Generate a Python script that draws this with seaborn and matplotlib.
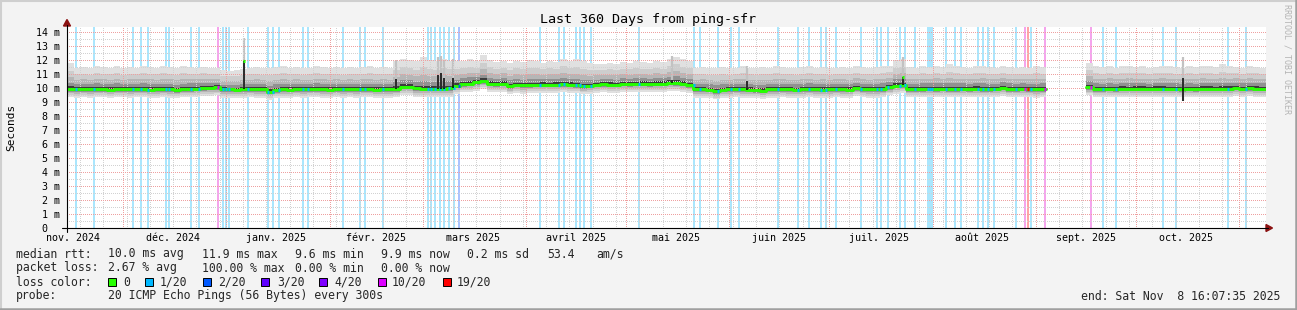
import numpy as np
import pandas as pd
import matplotlib
matplotlib.use("Agg")
import matplotlib.pyplot as plt
import seaborn as sns
from matplotlib.lines import Line2D
from matplotlib.patches import Polygon, Rectangle

# ---------------------------------------------------------------- data
axis_start = pd.Timestamp("2024-11-14 03:00")
n_days = 360
bucket_days = 2.0

# median RTT per 2-day bucket (ms)
median_ms = (
    [9.92, 9.9, 9.91, 9.9, 9.92, 9.91, 9.89, 9.92, 9.91, 9.9, 9.92, 9.91, 9.89, 9.9, 9.91, 9.9, 9.84, 9.91, 9.93, 9.95]
    + [9.98, 10.02, 10.05]
    + [9.9, 9.9, 9.89, 9.9]
    + [9.91, 9.9, 9.9, 9.75, 9.85, 9.9, 9.89, 9.91, 9.9, 9.91, 9.92, 9.9, 9.89, 9.91, 9.9, 9.91, 9.9, 9.92, 9.91, 9.89, 9.9, 9.9]
    + [9.92]
    + [10.08, 10.1, 9.97, 9.95, 9.94, 9.96, 9.96, 9.97]
    + [10.15, 10.28, 10.32, 10.4, 10.5, 10.3, 10.28, 10.3, 10.12, 10.22, 10.18, 10.2, 10.22, 10.25, 10.22, 10.25, 10.28, 10.25,
       10.2, 10.12, 10.15, 10.22, 10.28, 10.25, 10.22, 10.3, 10.28, 10.3, 10.32, 10.28, 10.3, 10.32, 10.38, 10.35, 10.3, 10.2]
    + [9.9, 9.9, 9.88, 9.76, 9.86, 9.9, 9.92, 9.9, 9.88, 9.85, 9.82, 9.9, 9.9, 9.92, 9.9, 9.88, 9.9, 9.92, 9.9, 9.88,
       9.9, 9.92, 9.9, 9.88, 10.0, 9.92, 9.9, 9.9, 9.92, 10.05]
    + [10.15, 10.2]
    + [9.92, 9.93, 9.92, 9.94, 9.93, 9.95, 9.93, 9.92, 9.94, 9.93, 9.95, 9.93, 9.92, 9.94, 10.02, 9.93, 9.92, 9.94, 9.93, 9.9, 9.93]
    + [np.nan] * 6
    + [10.05]
    + [9.93, 9.92, 9.94, 9.93, 9.95, 9.94, 9.96, 9.95, 9.94, 9.96, 9.95, 9.94, 9.95, 9.93, 9.94, 9.92, 9.95, 9.96, 9.94, 9.95,
       9.96, 10.02, 9.95, 9.98, 9.96, 9.95]
)

# highest ping (top of the smoke) per 2-day bucket (ms)
smoke_top_ms = (
    [11.8, 11.45, 11.5, 11.4, 11.55, 11.5, 11.45, 11.55, 11.4, 11.5, 11.45, 11.6, 11.5, 11.45, 11.55, 11.5, 11.4, 11.55, 11.5, 11.45]
    + [11.5, 11.45, 11.4, 11.3, 11.25, 11.3, 11.35]
    + [11.45, 11.5, 11.4, 11.45, 11.5, 11.55, 11.45, 11.5, 11.4, 11.45, 11.55, 11.5, 11.45, 11.5, 11.4, 11.5, 11.45, 11.5, 11.55, 11.45, 11.5, 11.45]
    + [11.9, 12.1, 12.0, 11.9, 12.2, 12.0, 11.9, 12.1, 11.95]
    + [11.9, 11.95, 12.05, 11.9, 12.35, 12.0, 11.85, 11.95, 11.8, 11.9, 11.85, 12.0, 11.9, 11.8, 11.9, 11.85, 12.1, 11.95,
       12.05, 11.9, 11.8, 11.75, 11.7, 11.8, 11.75, 11.85, 11.8, 11.9, 11.85, 11.8, 11.95, 11.85, 12.1, 12.25, 12.05, 11.95]
    + [11.45, 11.5, 11.4, 11.45, 11.5, 11.4, 11.45, 11.55, 11.45, 11.4, 11.5, 11.45, 11.55, 11.5, 11.45, 11.4, 11.5, 11.55,
       11.45, 11.5, 11.4, 11.45, 11.5, 11.45, 11.55, 11.5, 11.45, 11.5, 11.55, 11.6, 12.0, 12.1]
    + [11.5, 11.45, 11.55, 11.5, 11.6, 11.5, 11.7, 11.55, 11.5, 11.45, 11.55, 11.6, 11.5, 11.45, 11.55, 11.5, 11.45, 11.5, 11.45, 11.55, 11.5]
    + [np.nan] * 6
    + [11.8, 11.55, 11.5, 11.6, 11.45, 11.55, 11.6, 11.5, 11.55, 11.45, 11.5, 11.6, 11.55, 11.5, 11.45, 11.55, 11.5, 11.6,
       11.55, 11.5, 11.7, 11.55, 11.5, 11.45, 11.55, 11.5, 11.45]
)

# smoke shading: share of (top - median) above the median, ms below the median
smoke_up_frac = [1.0, 0.7, 0.45, 0.25, 0.1]
smoke_down_ms = [0.58, 0.44, 0.3, 0.18, 0.09]
smoke_colors = ["#e0e0e0", "#cdcdcd", "#b6b6b6", "#919191", "#3c3c3c"]

# packet-loss events (day offset from axis start)
loss_days_1of20 = [2.4, 7.8, 19.5, 21.9, 24.0, 29.4, 30.3, 36.9, 39.3, 46.5, 47.4, 48.3, 54.0, 60.0, 61.5, 63.3,
                   70.5, 72.1, 82.6, 87.7, 89.2, 94.6, 108.1, 109.0, 110.2, 111.7, 112.9, 114.4, 115.9, 141.7,
                   147.4, 148.9, 152.5, 153.7, 154.9, 157.0, 171.4, 187.9, 189.7, 195.1, 199.0, 201.4, 213.1,
                   219.2, 222.5, 226.1, 227.6, 230.6, 238.1, 242.9, 244.1, 246.2, 249.8, 251.3, 254.3, 258.2,
                   258.9, 259.4, 263.6, 266.3, 268.1, 273.2, 274.7, 276.2, 278.0, 284.6, 289.1, 310.7, 314.6,
                   328.7, 332.6, 348.2, 353.6]
loss_days_2of20 = [117.5]
loss_days_10of20 = [45.0, 287.3, 293.2, 307.1]
loss_days_19of20 = [288.2]

# short latency spikes
spike_days = [53.2, 98.8, 111.4, 112.3, 113.2, 115.9, 181.6, 204.1, 251.0, 335.0]
spike_lo = [9.9, 9.92, 9.95, 9.95, 9.95, 9.97, 10.35, 9.88, 10.2, 9.1]
spike_hi = [11.9, 10.65, 10.9, 11.1, 10.7, 10.75, 10.55, 10.5, 10.8, 10.7]
spike_top = [13.6, 12.0, 12.2, 12.3, 12.0, 12.1, 12.3, 11.6, 12.2, 12.2]
spike_green_head = [True, False, False, False, False, False, False, False, True, False]

month_labels = ["nov. 2024", "déc. 2024", "janv. 2025", "févr. 2025", "mars 2025", "avril 2025",
                "mai 2025", "juin 2025", "juil. 2025", "août 2025", "sept. 2025", "oct. 2025"]
month_label_dates = ["2024-11-16", "2024-12-16", "2025-01-16", "2025-02-15", "2025-03-16", "2025-04-16",
                     "2025-05-16", "2025-06-16", "2025-07-16", "2025-08-16", "2025-09-16", "2025-10-16"]
month_grid_dates = ["2024-12-01", "2025-01-01", "2025-02-01", "2025-03-01", "2025-04-01", "2025-05-01",
                    "2025-06-01", "2025-07-01", "2025-08-01", "2025-09-01", "2025-10-01", "2025-11-01"]
ytick_values = list(range(15))
ytick_labels = ["0  "] + [f"{v} m" for v in range(1, 15)]

legend_rtt = [(16, "median rtt:"), (108, "10.0 ms avg"), (202, "11.9 ms max"), (295, "9.6 ms min"),
              (381, "9.9 ms now"), (467, "0.2 ms sd"), (547, "53.4"), (596, "am/s")]
legend_loss = [(16, "packet loss:"), (108, "2.67 % avg"), (202, "100.00 % max"), (295, "0.00 % min"),
               (381, "0.00 % now")]
loss_color_names = ["0", "1/20", "2/20", "3/20", "4/20", "10/20", "19/20"]
loss_color_values = ["#26ff00", "#00b8ff", "#0059ff", "#5e00ff", "#7e00ff", "#dd00ff", "#ff0000"]
loss_box_x = [108, 145, 203, 261, 319, 378, 443]
loss_text_x = [123, 160, 218, 277, 334, 392, 457]
probe_text = "20 ICMP Echo Pings (56 Bytes) every 300s"
end_text = "end: Sat Nov  8 16:07:35 2025"
title_text = "Last 360 Days from ping-sfr"

# ---------------------------------------------------------------- figure
sns.set_theme(style="white")
plt.rcParams["font.family"] = ["DejaVu Sans Mono", "DejaVu Sans"]

W, H = 1297, 310
fig = plt.figure(figsize=(W / 100, H / 100), dpi=100, facecolor="#f3f3f3")
X0, X1, YB, YT = 67, 1266, 228, 27
ax = fig.add_axes([X0 / W, 1 - YB / H, (X1 - X0) / W, (YB - YT) / H])
ax.set_facecolor("white")
ymax = (YB - YT) / 14.0
ax.set_xlim(0, n_days)
ax.set_ylim(0, ymax)
for s in ax.spines.values():
    s.set_visible(False)


def day_of(ts):
    return (pd.Timestamp(ts) - axis_start) / pd.Timedelta(days=1)


def fx(x):
    return x / W


def fy(y):
    return 1 - y / H


# loss bars (behind smoke)
loss_groups = [(loss_days_1of20, "#aae6fd"), (loss_days_2of20, "#aac4ff"),
               (loss_days_10of20, "#f5a4ec"), (loss_days_19of20, "#ffa4a4")]
bar_w = 0.62
for days, col in loss_groups:
    for d in days:
        ax.axvspan(d, d + bar_w, color=col, lw=0, zorder=1, antialiased=False)

# smoke (step rendering of buckets)
med = np.array(median_ms, dtype=float)
top = np.array(smoke_top_ms, dtype=float)
edges = np.arange(0, n_days + bucket_days, bucket_days)
xs = np.repeat(edges, 2)[1:-1]
med_s = np.repeat(med, 2)
top_s = np.repeat(top, 2)
for frac, dn, col in zip(smoke_up_frac, smoke_down_ms, smoke_colors):
    ax.fill_between(xs, med_s - dn, med_s + frac * (top_s - med_s), color=col, lw=0, zorder=2)

# spike smoke
ax.vlines(spike_days, spike_lo, spike_top, color="#c2c2c2", lw=1.6, zorder=2.1)

# grid
dot = (0, (1, 2))
for v in np.arange(0.5, ymax, 1.0):
    ax.axhline(v, color="#d2d2d2", lw=0.72, ls=dot, zorder=2.5, antialiased=False)
mondays = pd.date_range(axis_start, axis_start + pd.Timedelta(days=n_days), freq="W-MON")
for m in mondays:
    ax.axvline(day_of(m.normalize()), color="#d2d2d2", lw=0.72, ls=dot, zorder=2.5, antialiased=False)
for v in range(1, 15):
    ax.axhline(v, color="#eea0a0", lw=0.72, ls=dot, zorder=2.6, antialiased=False)
for d in month_grid_dates:
    ax.axvline(day_of(d), color="#eea0a0", lw=0.72, ls=dot, zorder=2.6, antialiased=False)

# median line, one unit per contiguous run
seg = np.cumsum(np.isnan(med_s)).astype(float)
df = pd.DataFrame({"day": xs, "ms": med_s, "seg": seg}).dropna()
sns.lineplot(data=df, x="day", y="ms", units="seg", estimator=None, sort=False,
             color="#26ff00", lw=2.1, ax=ax, zorder=3.1)

# loss colour on the median
median_loss = [(loss_days_1of20, "#00b8ff"), (loss_days_2of20, "#0059ff"),
               (loss_days_10of20, "#dd00ff"), (loss_days_19of20, "#ff0000")]
for days, col in median_loss:
    for d in days:
        k = int(d // bucket_days)
        if 0 <= k < len(med) and not np.isnan(med[k]):
            ax.hlines(med[k], d, d + bar_w, color=col, lw=2.3, zorder=3.2)

# spikes
ax.vlines(spike_days, spike_lo, spike_hi, color="black", lw=1.1, zorder=3.3)
for d, hi, g in zip(spike_days, spike_hi, spike_green_head):
    if g:
        ax.hlines(hi, d - 0.3, d + 0.3, color="#26ff00", lw=2.2, zorder=3.4)

# ticks
ax.set_xticks([day_of(d) for d in month_label_dates])
ax.set_xticklabels(month_labels)
ax.set_yticks(ytick_values)
ax.set_yticklabels(ytick_labels)
ax.tick_params(axis="x", length=0, pad=3.4, labelsize=7.2, colors="black")
ax.tick_params(axis="y", length=0, pad=5.0, labelsize=7.2, colors="black")
ax.set_xlabel("")
ax.set_ylabel("")

# axis lines and arrows
fig.add_artist(Line2D([fx(62), fx(1268)], [fy(228), fy(228)], color="black", lw=0.8, transform=fig.transFigure))
fig.add_artist(Line2D([fx(67), fx(67)], [fy(232), fy(25)], color="black", lw=0.8, transform=fig.transFigure))
fig.add_artist(Polygon([[fx(1266), fy(224.5)], [fx(1272.5), fy(228)], [fx(1266), fy(231.5)]],
                       closed=True, color="#8b1111", transform=fig.transFigure))
fig.add_artist(Polygon([[fx(63.5), fy(26)], [fx(67), fy(19.5)], [fx(70.5), fy(26)]],
                       closed=True, color="#8b1111", transform=fig.transFigure))

# texts
fig.text(fx(648), fy(19), title_text, ha="center", va="center", fontsize=9.6, color="black")
fig.text(fx(11), fy(127), "Seconds", ha="center", va="center", rotation=90, fontsize=8.0, color="black")
fig.text(fx(1287), fy(59), "RRDTOOL / TOBI OETIKER", ha="center", va="center", rotation=270,
         fontsize=6.0, color="#b4b4b4")

fs = 8.3
for x, t in legend_rtt:
    fig.text(fx(x), fy(254), t, ha="left", va="center", fontsize=fs)
for x, t in legend_loss:
    fig.text(fx(x), fy(268), t, ha="left", va="center", fontsize=fs)
fig.text(fx(16), fy(282), "loss color:", ha="left", va="center", fontsize=fs)
for bx, tx, name, col in zip(loss_box_x, loss_text_x, loss_color_names, loss_color_values):
    fig.add_artist(Rectangle((fx(bx), fy(286)), 8 / W, 8 / H, facecolor=col, edgecolor="black",
                             lw=0.7, transform=fig.transFigure))
    fig.text(fx(tx), fy(282), name, ha="left", va="center", fontsize=fs)
fig.text(fx(16), fy(296), "probe:", ha="left", va="center", fontsize=fs)
fig.text(fx(108), fy(296), probe_text, ha="left", va="center", fontsize=fs)
fig.text(fx(1280), fy(296), end_text, ha="right", va="center", fontsize=fs)

# frame
fig.add_artist(Line2D([0, 1], [fy(0.8), fy(0.8)], color="#cfcfcf", lw=1.5, transform=fig.transFigure))
fig.add_artist(Line2D([fx(0.8), fx(0.8)], [0, 1], color="#cfcfcf", lw=1.5, transform=fig.transFigure))
fig.add_artist(Line2D([0, 1], [fy(309), fy(309)], color="#9f9f9f", lw=1.8, transform=fig.transFigure))
fig.add_artist(Line2D([fx(1296), fx(1296)], [0, 1], color="#9f9f9f", lw=1.8, transform=fig.transFigure))

fig.savefig("out.png", dpi=100, facecolor=fig.get_facecolor())
